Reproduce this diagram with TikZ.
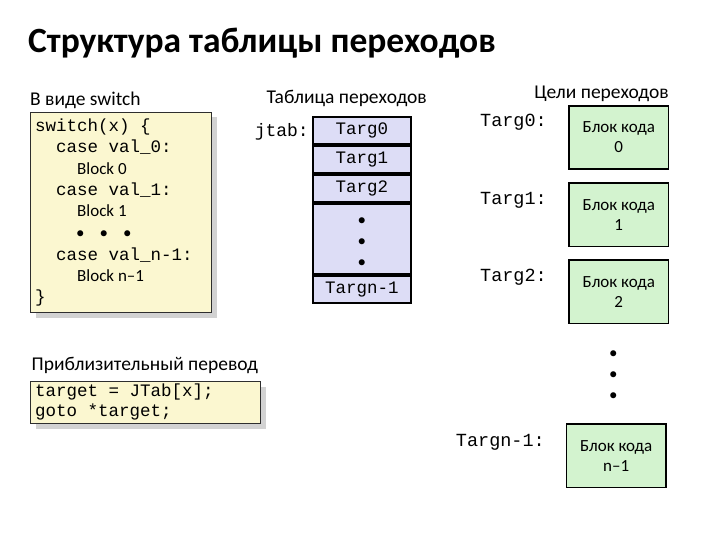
\documentclass[tikz,border=0pt]{standalone}
\usepackage{fontspec}
\setmainfont{Carlito}
\setmonofont{Liberation Mono}
\usepackage{xcolor}
\definecolor{codebg}{HTML}{FBF7D0}
\definecolor{tabbg} {HTML}{DDDDF6}
\definecolor{blkbg} {HTML}{D3F3CF}
\definecolor{framec}{HTML}{2E2E2E}
\usetikzlibrary{positioning,calc,shadows}

\begin{document}
\begin{tikzpicture}[x=1pt, y=-1pt,
  every node/.style={inner sep=0pt},
  head/.style={font=\fontsize{35.5}{42}\selectfont\bfseries, anchor=base west},
  lbl/.style={font=\fontsize{19.5}{23}\selectfont},
  txt/.style={font=\fontsize{17}{20}\selectfont, anchor=base west},
  mono/.style={font=\ttfamily\fontsize{17.5}{21}\selectfont, anchor=base west},
  tlbl/.style={font=\ttfamily\fontsize{18.5}{22}\selectfont, anchor=base east},
  panel/.style={draw=framec, fill=codebg, line width=1pt, anchor=north west,
    drop shadow={shadow xshift=5pt, shadow yshift=-5pt, fill=black!35}},
  cell/.style={draw=black, fill=tabbg, line width=1.6pt, minimum width=98pt, minimum height=27.4pt,
    font=\ttfamily\fontsize{17.5}{21}\selectfont},
  blk/.style={draw=black, fill=blkbg, line width=1.6pt, minimum width=99.5pt, minimum height=63.5pt,
    align=center, font=\fontsize{17}{20}\selectfont},
  dots/.style={anchor=center, align=center, font=\fontsize{17}{21}\selectfont}]
  \useasboundingbox (0,0) rectangle (720,540);
  % Title
  \node[head] (title) at (28,52.7) {Структура таблицы переходов};
  % Switch form
  \node[lbl, anchor=base west] (hsw) at (30,105.5) {В виде switch};
  \node[panel, minimum width=181pt, minimum height=200pt] (sw) at (30,112) {};
  \node[mono] (sw1) at (35,131.5) {switch(x) \{};
  \node[mono] (sw2) at (56,153) {case val\_0:};
  \node[txt]  (sw3) at (77,174.3) {Block 0};
  \node[mono] (sw4) at (56,196) {case val\_1:};
  \node[txt]  (sw5) at (77,216.7) {Block 1};
  \node[txt]  (sw6) at (76,238) {•\hspace{15pt}•\hspace{15pt}•};
  \node[mono] (sw7) at (56,260) {case val\_n-1:};
  \node[txt]  (sw8) at (77,281.7) {Block n–1};
  \node[mono] (sw9) at (35,302) {\}};
  % Translation
  \node[lbl, anchor=base west] (htr) at (31.5,370) {Приблизительный перевод};
  \node[panel, minimum width=230pt, minimum height=42pt] (tr) at (30,381) {};
  \node[mono] (tr1) at (35,396.7) {target = JTab[x];};
  \node[mono] (tr2) at (35,416.7) {goto *target;};
  % Jump table
  \node[lbl, anchor=base] (htab) at (346.7,103.3) {Таблица переходов};
  \node[cell, anchor=north west] (t0) at (312,116) {Targ0};
  \node[cell, below=0pt of t0] (t1) {Targ1};
  \node[cell, below=0pt of t1] (t2) {Targ2};
  \node[cell, below=0pt of t2, minimum height=70.4pt] (tdots) {};
  \node[cell, below=0pt of tdots] (tn) {Targn-1};
  \node[dots] (tdt) at ($(tdots.center)+(0,4)$) {•\\•\\•};
  \node[mono, anchor=base east, font=\ttfamily\fontsize{18}{21}\selectfont] (jtab) at (309,136.7) {jtab:};
  % Targets
  \node[lbl, anchor=base] (hblk) at (601.5,98.3) {Цели переходов};
  \node[blk] (b0) at (618.8,137.5) {Блок кода\\0};
  \node[blk, below=12pt of b0] (b1) {Блок кода\\1};
  \node[blk, below=12pt of b1] (b2) {Блок кода\\2};
  \node[blk] (bn) at (616.2,455.8) {Блок кода\\n–1};
  \node[dots] (bdt) at (613.3,376) {•\\•\\•};
  \node[tlbl] (l0) at (547,126.7) {Targ0:};
  \node[tlbl] (l1) at (547,205) {Targ1:};
  \node[tlbl] (l2) at (547,281.7) {Targ2:};
  \node[tlbl] (ln) at (545,446.7) {Targn-1:};
\end{tikzpicture}
\end{document}
